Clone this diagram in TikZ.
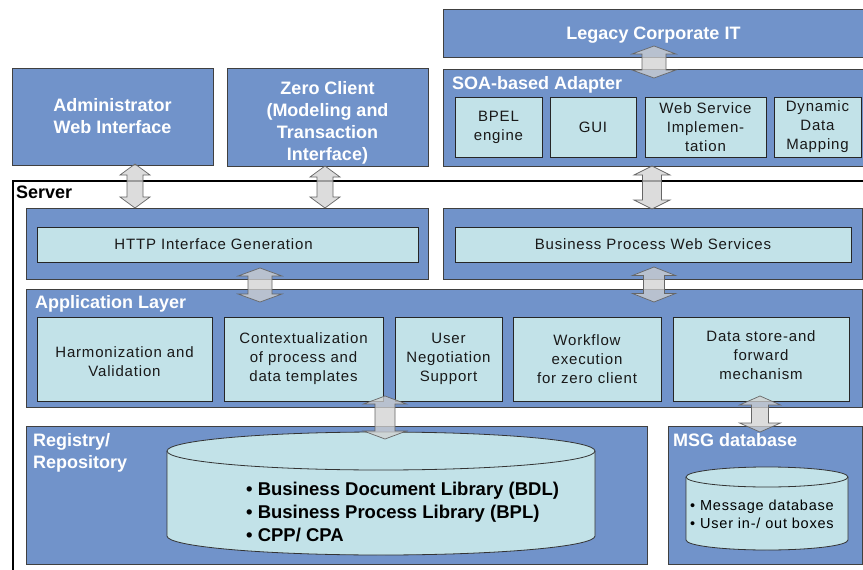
\documentclass[tikz,border=0pt]{standalone}
\usepackage{fontspec}
\setmainfont{Liberation Sans}
\newfontfamily\lsp[LetterSpace=5.5]{Liberation Sans}
\usetikzlibrary{calc}
\definecolor{myblue}{RGB}{113,147,202}
\definecolor{mycyan}{RGB}{194,226,232}
\newcommand\titlefont{\fontsize{18}{22}\selectfont\bfseries}
\newcommand\boxfont{\lsp\fontsize{15}{19}\selectfont}
\newcommand\cylfont{\fontsize{18.5}{23}\selectfont\bfseries}
\newcommand\smallcylfont{\lsp\fontsize{14.5}{18}\selectfont}
% double block arrow: #1 x, #2 top anchor, #3 overlap at top, #4 bottom anchor, #5 overlap at bottom,
% #6 head half width, #7 shaft half width, #8 head length
\newcommand\twoway[8]{%
  \path[arr] let \p1=(#2), \p2=(#4) in
    (#1pt-#7pt, \y1+#3pt-#8pt) -- (#1pt-#6pt, \y1+#3pt-#8pt) -- (#1pt, \y1+#3pt)
    -- (#1pt+#6pt, \y1+#3pt-#8pt) -- (#1pt+#7pt, \y1+#3pt-#8pt)
    -- (#1pt+#7pt, \y2-#5pt+#8pt) -- (#1pt+#6pt, \y2-#5pt+#8pt) -- (#1pt, \y2-#5pt)
    -- (#1pt-#6pt, \y2-#5pt+#8pt) -- (#1pt-#7pt, \y2-#5pt+#8pt) -- cycle;}
\tikzset{
  outer/.style={draw=black!75, fill=myblue, line width=0.8pt, inner sep=0pt, outer sep=0pt,
    text=white, font=\titlefont, align=center},
  inner/.style={draw=black!85, fill=mycyan, line width=0.8pt, inner sep=0pt, outer sep=0pt,
    text=black!90, font=\boxfont, align=center},
  ttl/.style={inner sep=0pt, text=white, font=\titlefont, anchor=base west},
  arr/.style={fill=black!18, fill opacity=0.75, draw=black!60, line width=0.7pt, line join=miter},
  frame/.style={draw=black, line width=2pt},
  cyl/.style={draw=black!80, fill=mycyan, line width=0.8pt},
}
\begin{document}
\begin{tikzpicture}[x=1pt,y=-1pt]
\useasboundingbox[fill=white] (0,0) rectangle (863,570);

% server frame
\draw[frame] (13,181) rectangle (900,620);
\node[inner sep=0pt, anchor=base west, font=\titlefont, text=black] (serverT) at (16,198) {Server};

% top row
\node[outer, minimum width=421, minimum height=48] (legacy) at (653.5,33) {\rule{0pt}{17pt}Legacy Corporate IT};
\node[outer, minimum width=421, minimum height=97] (soa) at (653.5,117.5) {};
\node[ttl] (soaT) at (452,89) {SOA-based Adapter};
\node[inner, minimum width=87, minimum height=60] (bpel) at (498.5,127) {BPEL\\engine};
\node[inner, minimum width=86, minimum height=60] (gui) at (593,127) {GUI};
\node[inner, minimum width=121, minimum height=60] (websvc) at (705.5,127) {Web Service\\Implemen-\\tation};
\node[inner, minimum width=87, minimum height=60] (dyn) at (817.5,127) {Dynamic\\Data\\Mapping};

\node[outer, minimum width=201, minimum height=97] (admin) at (112.5,116.5) {Administrator\\Web Interface};
\node[outer, minimum width=201, minimum height=98] (zero) at (327.5,117) {\rule{0pt}{24pt}Zero Client\\(Modeling and\\Transaction\\Interface)};

% interface row
\node[outer, minimum width=402, minimum height=71] (http) at (227,243.5) {};
\node[inner, minimum width=381, minimum height=35] (httpi) at (227.5,244.5) {\hspace*{-28pt}HTTP Interface Generation};
\node[outer, minimum width=419, minimum height=71] (bpws) at (652.5,243.5) {};
\node[inner, minimum width=396, minimum height=35] (bpwsi) at (653,244.5) {Business Process Web Services};

% application layer
\node[outer, minimum width=836, minimum height=118] (app) at (444,348) {};
\node[ttl] (appT) at (35,308) {Application Layer};
\node[inner, minimum width=175, minimum height=84] (harm) at (124.5,359) {\rule{0pt}{16pt}Harmonization and\\Validation};
\node[inner, minimum width=159, minimum height=84] (ctx) at (303.5,359) {Contextualization\\of process and\\data templates};
\node[inner, minimum width=107, minimum height=84] (user) at (448.5,359) {User\\Negotiation\\Support};
\node[inner, minimum width=148, minimum height=84] (wf) at (587,359) {Workflow\\execution\\for zero client};
\node[inner, minimum width=176, minimum height=84] (ds) at (761,359) {Data store-and\\forward\\mechanism\rule[-8pt]{0pt}{8pt}};

% storage row
\node[outer, minimum width=621, minimum height=138] (registry) at (336.5,495) {};
\node[inner sep=0pt, anchor=west, align=left, text=white, font=\titlefont] (regT) at (33,452.5) {Registry/\\Repository};
\node[outer, minimum width=194, minimum height=138] (msg) at (765,495) {};
\node[ttl] (msgT) at (673,446.5) {MSG database};

% big cylinder
\filldraw[cyl] (167,451) -- (167,536) arc[start angle=180, end angle=360, x radius=214pt, y radius=19pt]
  -- (595,451) arc[start angle=0, end angle=180, x radius=214pt, y radius=19pt] -- cycle;
\draw[cyl, fill=none] (167,451) arc[start angle=180, end angle=360, x radius=214pt, y radius=19pt];
\node[inner sep=0pt, anchor=west, align=left, font=\cylfont] (lib) at (246,512)
  {\textbullet\ Business Document Library (BDL)\\\textbullet\ Business Process Library (BPL)\\\textbullet\ CPP/ CPA};

% small cylinder
\filldraw[cyl] (686,477) -- (686,540) arc[start angle=180, end angle=360, x radius=81pt, y radius=10pt]
  -- (848,477) arc[start angle=0, end angle=180, x radius=81pt, y radius=10pt] -- cycle;
\draw[cyl, fill=none] (686,477) arc[start angle=180, end angle=360, x radius=81pt, y radius=10pt];
\node[inner sep=0pt, anchor=west, align=left, font=\smallcylfont] (msgdb) at (690,514)
  {\textbullet\ Message database\\\textbullet\ User in-/ out boxes};

% arrows
\twoway{135}{admin.south}{1}{http.north}{0}{15}{8}{11}
\twoway{325}{zero.south}{0}{http.north}{0}{15}{8}{11}
\twoway{654}{legacy.south}{11}{soa.north}{9}{22}{12}{8}
\twoway{652}{soa.south}{0}{bpws.north}{1}{18}{9.5}{9}
\twoway{260}{http.south}{11}{app.north}{13}{22}{12}{8}
\twoway{654}{bpws.south}{12}{app.north}{13}{21.5}{10.5}{8.5}
\twoway{385}{app.south}{11}{registry.north}{13}{21.5}{10}{8}
\twoway{760}{app.south}{11}{msg.north}{6}{20.5}{8.5}{9}
\end{tikzpicture}
\end{document}
